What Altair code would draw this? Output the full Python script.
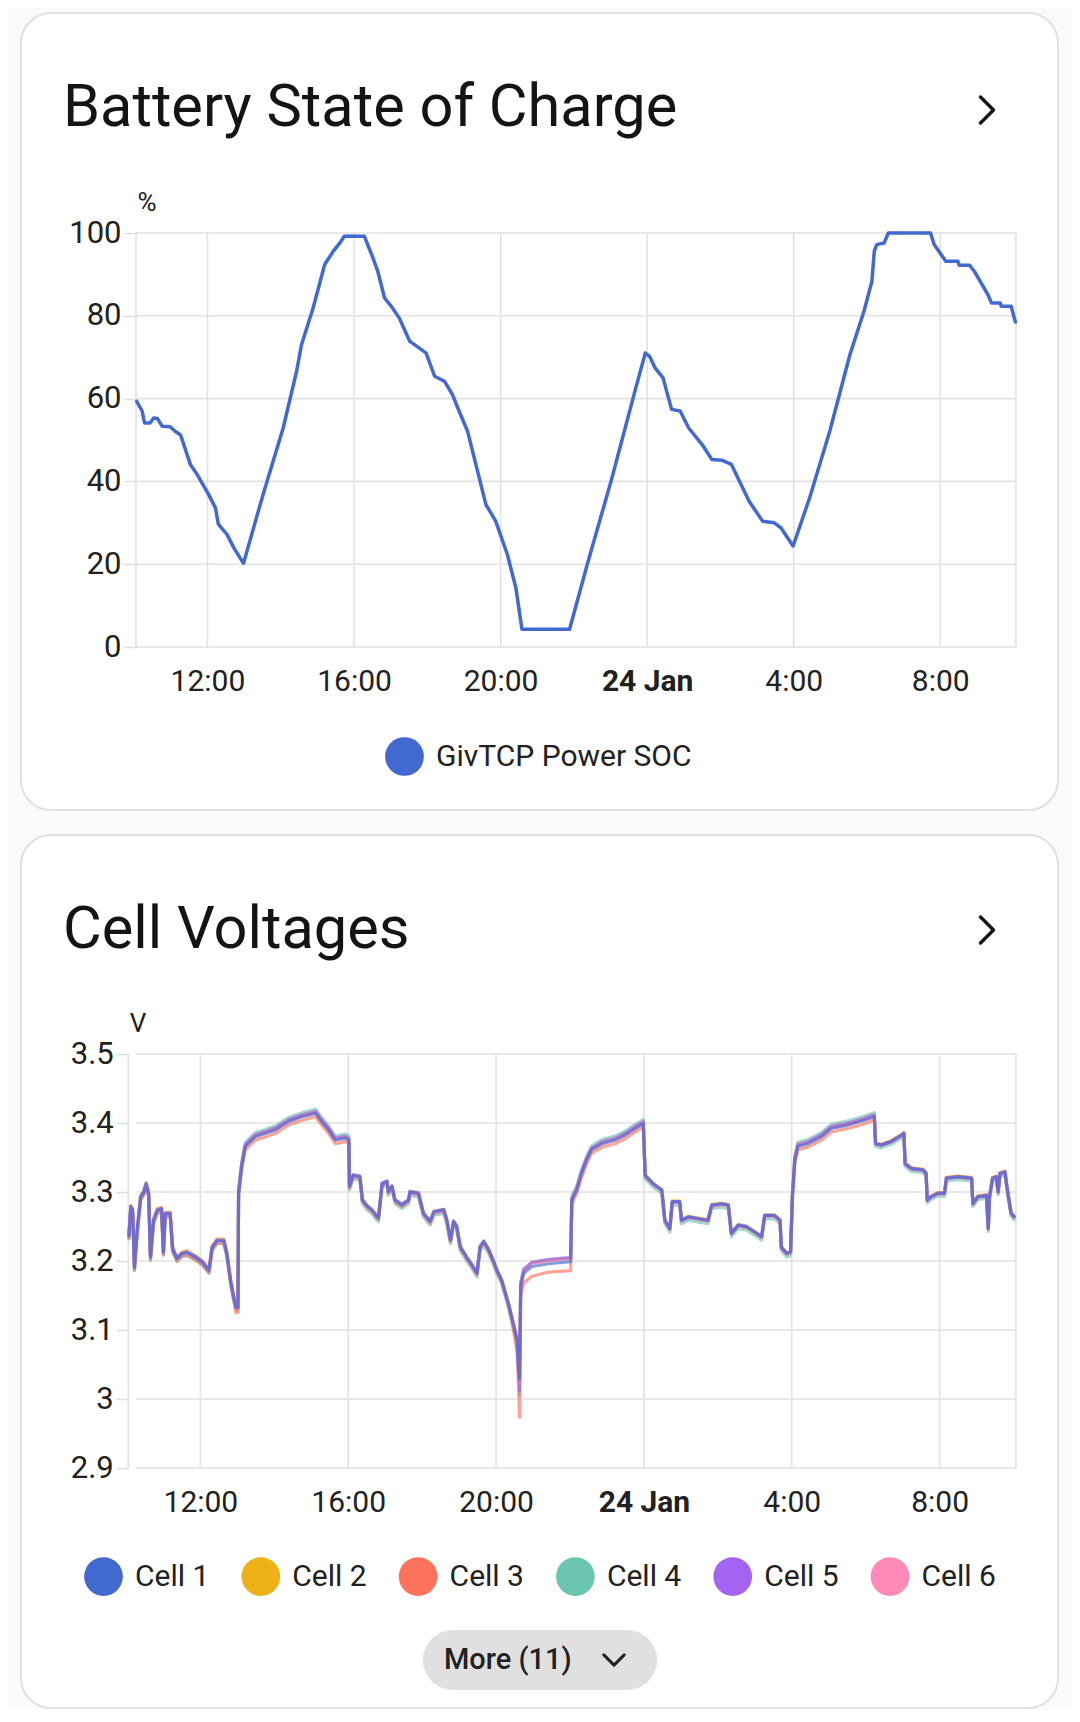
import altair as alt
import pandas as pd

FONT = "Roboto"
TXT = "#212121"
GRID = "#e2e2e2"

# ---------------- Battery SOC data ----------------
soc_times_23 = ["10:04", "10:13", "10:17", "10:26", "10:32", "10:38", "10:46", "10:59", "11:07", "11:16",
                "11:32", "11:43", "12:02", "12:13", "12:18", "12:32", "12:43", "12:59", "13:31", "14:04",
                "14:26", "14:34", "14:53", "15:12", "15:26", "15:37", "15:44", "16:17", "16:31", "16:39",
                "16:50", "17:01", "17:14", "17:31", "17:47", "17:58", "18:12", "18:28", "18:41", "18:52",
                "19:06", "19:36", "19:52", "20:11", "20:25", "20:35", "21:53", "22:22", "23:01", "23:40",
                "23:57"]
soc_values_23 = [59.4, 57.0, 54.1, 54.1, 55.3, 55.2, 53.3, 53.2, 52.1, 51.2,
                 44.1, 41.7, 36.8, 33.6, 29.6, 27.2, 24.0, 20.2, 36.8, 52.9,
                 66.6, 73.0, 81.9, 92.4, 95.6, 97.6, 99.2, 99.2, 94.0, 90.7,
                 84.3, 82.3, 79.5, 73.9, 72.2, 71.0, 65.4, 64.2, 61.0, 57.0,
                 52.1, 34.4, 30.4, 22.4, 14.3, 4.3, 4.3, 20.0, 40.1, 61.8,
                 71.0]
soc_times_24 = ["00:04", "00:13", "00:26", "00:40", "00:54", "01:08", "01:30", "01:46", "02:03", "02:18",
                "02:31", "02:47", "03:09", "03:28", "03:39", "03:59", "04:26", "04:59", "05:32", "05:55",
                "06:08", "06:12", "06:16", "06:28", "06:35", "07:44", "07:50", "08:09", "08:29", "08:31",
                "08:48", "08:56", "09:18", "09:24", "09:38", "09:40", "09:56", "10:03"]
soc_values_24 = [70.2, 67.4, 65.0, 57.4, 57.0, 52.9, 48.9, 45.3, 45.1, 44.1,
                 40.1, 35.2, 30.4, 30.0, 28.8, 24.4, 36.0, 52.1, 70.6, 81.1,
                 88.3, 95.6, 97.2, 97.6, 100.0, 100.0, 97.2, 93.2, 93.2, 92.2,
                 92.2, 90.7, 85.1, 83.1, 83.1, 82.3, 82.3, 78.5]

# ---------------- Cell voltage data ----------------
v_times_23 = ["10:04", "10:07", "10:10", "10:13", "10:17", "10:23", "10:28", "10:32", "10:36", "10:39",
              "10:44", "10:50", "10:57", "11:00", "11:03", "11:11", "11:15", "11:22", "11:30", "11:38",
              "11:52", "12:03", "12:14", "12:19", "12:27", "12:38", "12:43", "12:49", "12:54", "12:58",
              "13:01",
              "13:02", "13:07", "13:13", "13:29", "13:46", "14:02", "14:23", "14:45", "15:07", "15:15",
              "15:28", "15:39", "15:55", "16:01",
              "16:02", "16:08", "16:19", "16:23", "16:31", "16:38", "16:45", "16:49", "16:55", "17:03",
              "17:05", "17:11", "17:16", "17:27", "17:38", "17:40", "17:54", "18:02", "18:13", "18:19",
              "18:35", "18:40", "18:46", "18:51", "18:56", "19:02", "19:13", "19:23", "19:29", "19:34",
              "19:40", "19:48", "19:56", "20:01", "20:09", "20:20", "20:28", "20:34", "20:37",
              "20:38",
              "20:40", "20:45", "20:58", "21:25", "22:01",
              "22:03", "22:11", "22:19", "22:27", "22:35", "22:52", "23:13", "23:29", "23:46", "23:59"]
v_times_24 = ["00:02", "00:15", "00:29", "00:34", "00:42", "00:46", "00:58", "01:01", "01:12", "01:25",
              "01:44", "01:50", "02:06", "02:17", "02:22", "02:33", "02:46", "03:00", "03:11", "03:16",
              "03:32", "03:41", "03:43", "03:52", "03:58",
              "04:01", "04:05", "04:10", "04:26", "04:48", "05:04", "05:31", "05:58", "06:14",
              "06:16", "06:25", "06:41", "06:58", "07:02", "07:04", "07:14", "07:33", "07:38", "07:40",
              "07:46", "07:57", "08:08", "08:11", "08:30", "08:52", "08:54", "09:02", "09:16", "09:19",
              "09:21", "09:26", "09:32", "09:35", "09:38", "09:46", "09:50", "09:56", "10:01"]

cell_1 = [3.237, 3.279, 3.274, 3.191, 3.240, 3.293, 3.300, 3.312, 3.298, 3.206, 3.259, 3.274, 3.276, 3.213, 3.269, 3.269, 3.218, 3.204, 3.211, 3.213, 3.206, 3.199, 3.187, 3.220, 3.230, 3.230, 3.211, 3.172, 3.148, 3.133, 3.133,
          3.298, 3.337, 3.366, 3.380, 3.385, 3.390, 3.402, 3.409, 3.414, 3.404, 3.390, 3.375, 3.378, 3.375,
          3.308, 3.324, 3.322, 3.288, 3.279, 3.274, 3.266, 3.262, 3.312, 3.315, 3.300, 3.308, 3.288, 3.281, 3.288, 3.300, 3.298, 3.269, 3.257, 3.271, 3.274, 3.259, 3.230, 3.257, 3.250, 3.220, 3.204, 3.191, 3.182, 3.220, 3.228, 3.216, 3.199, 3.187, 3.172, 3.138, 3.109, 3.085, 3.037,
          3.030,
          3.162, 3.182, 3.192, 3.196, 3.199,
          3.288, 3.303, 3.327, 3.346, 3.361, 3.370, 3.375, 3.382, 3.392, 3.399,
          3.324, 3.312, 3.303, 3.259, 3.247, 3.286, 3.286, 3.259, 3.264, 3.262, 3.259, 3.281, 3.283, 3.281, 3.240, 3.252, 3.250, 3.242, 3.235, 3.266, 3.266, 3.259, 3.220, 3.211, 3.213,
          3.293, 3.346, 3.366, 3.370, 3.380, 3.392, 3.397, 3.404, 3.409,
          3.370, 3.368, 3.373, 3.382, 3.385, 3.341, 3.334, 3.332, 3.327, 3.288, 3.293, 3.298, 3.298, 3.320, 3.322, 3.320, 3.283, 3.293, 3.295, 3.247, 3.293, 3.320, 3.322, 3.300, 3.327, 3.329, 3.303, 3.269, 3.264]

cell_2 = [3.239, 3.281, 3.276, 3.193, 3.242, 3.295, 3.302, 3.314, 3.300, 3.208, 3.261, 3.276, 3.278, 3.215, 3.271, 3.271, 3.220, 3.206, 3.213, 3.215, 3.208, 3.201, 3.189, 3.222, 3.232, 3.232, 3.213, 3.174, 3.150, 3.135, 3.135,
          3.300, 3.339, 3.368, 3.382, 3.387, 3.392, 3.404, 3.411, 3.416, 3.406, 3.392, 3.377, 3.380, 3.377,
          3.309, 3.325, 3.323, 3.289, 3.280, 3.275, 3.267, 3.263, 3.313, 3.316, 3.301, 3.309, 3.289, 3.282, 3.289, 3.301, 3.299, 3.270, 3.258, 3.272, 3.275, 3.260, 3.231, 3.258, 3.251, 3.221, 3.205, 3.192, 3.183, 3.221, 3.229, 3.217, 3.200, 3.188, 3.173, 3.139, 3.110, 3.086, 3.038,
          3.018,
          3.167, 3.187, 3.197, 3.201, 3.204,
          3.290, 3.305, 3.329, 3.348, 3.363, 3.372, 3.377, 3.384, 3.394, 3.401,
          3.325, 3.313, 3.304, 3.260, 3.248, 3.287, 3.287, 3.260, 3.265, 3.263, 3.260, 3.282, 3.284, 3.282, 3.241, 3.253, 3.251, 3.243, 3.236, 3.267, 3.267, 3.260, 3.221, 3.212, 3.214,
          3.295, 3.348, 3.368, 3.372, 3.382, 3.394, 3.399, 3.406, 3.411,
          3.371, 3.369, 3.374, 3.383, 3.386, 3.342, 3.335, 3.333, 3.328, 3.289, 3.294, 3.299, 3.299, 3.321, 3.323, 3.321, 3.284, 3.294, 3.296, 3.248, 3.294, 3.321, 3.323, 3.301, 3.328, 3.330, 3.304, 3.270, 3.265]

cell_3 = [3.233, 3.275, 3.270, 3.187, 3.236, 3.289, 3.296, 3.308, 3.294, 3.202, 3.255, 3.270, 3.272, 3.209, 3.265, 3.265, 3.214, 3.200, 3.207, 3.209, 3.202, 3.195, 3.183, 3.216, 3.226, 3.226, 3.207, 3.168, 3.144, 3.125, 3.125,
          3.293, 3.332, 3.361, 3.375, 3.380, 3.385, 3.397, 3.404, 3.409, 3.399, 3.385, 3.370, 3.373, 3.370,
          3.306, 3.322, 3.320, 3.286, 3.277, 3.272, 3.264, 3.260, 3.310, 3.313, 3.298, 3.306, 3.286, 3.279, 3.286, 3.298, 3.296, 3.267, 3.255, 3.269, 3.272, 3.257, 3.228, 3.255, 3.248, 3.218, 3.202, 3.189, 3.180, 3.218, 3.226, 3.214, 3.197, 3.185, 3.170, 3.136, 3.100, 3.070, 3.010,
          2.974,
          3.150, 3.168, 3.178, 3.184, 3.186,
          3.283, 3.298, 3.322, 3.341, 3.356, 3.365, 3.370, 3.377, 3.387, 3.394,
          3.323, 3.311, 3.302, 3.258, 3.246, 3.285, 3.285, 3.258, 3.263, 3.261, 3.258, 3.280, 3.282, 3.280, 3.239, 3.251, 3.249, 3.241, 3.234, 3.265, 3.265, 3.258, 3.219, 3.210, 3.212,
          3.288, 3.341, 3.361, 3.365, 3.375, 3.387, 3.392, 3.399, 3.404,
          3.371, 3.369, 3.374, 3.383, 3.386, 3.342, 3.335, 3.333, 3.328, 3.289, 3.294, 3.299, 3.299, 3.321, 3.323, 3.321, 3.284, 3.294, 3.296, 3.248, 3.294, 3.321, 3.323, 3.301, 3.328, 3.330, 3.304, 3.270, 3.265]

cell_4 = [3.232, 3.274, 3.269, 3.186, 3.235, 3.288, 3.295, 3.307, 3.293, 3.201, 3.254, 3.269, 3.271, 3.208, 3.264, 3.264, 3.213, 3.199, 3.206, 3.208, 3.201, 3.194, 3.182, 3.215, 3.225, 3.225, 3.206, 3.167, 3.143, 3.128, 3.128,
          3.304, 3.343, 3.372, 3.386, 3.391, 3.396, 3.408, 3.415, 3.420, 3.410, 3.396, 3.381, 3.384, 3.381,
          3.303, 3.319, 3.317, 3.283, 3.274, 3.269, 3.261, 3.257, 3.307, 3.310, 3.295, 3.303, 3.283, 3.276, 3.283, 3.295, 3.293, 3.264, 3.252, 3.266, 3.269, 3.254, 3.225, 3.252, 3.245, 3.215, 3.199, 3.186, 3.177, 3.215, 3.223, 3.211, 3.194, 3.182, 3.167, 3.133, 3.104, 3.080, 3.032,
          3.005,
          3.168, 3.188, 3.198, 3.202, 3.205,
          3.294, 3.309, 3.333, 3.352, 3.367, 3.376, 3.381, 3.388, 3.398, 3.405,
          3.319, 3.307, 3.298, 3.254, 3.242, 3.281, 3.281, 3.254, 3.259, 3.257, 3.254, 3.276, 3.278, 3.276, 3.235, 3.247, 3.245, 3.237, 3.230, 3.261, 3.261, 3.254, 3.215, 3.206, 3.208,
          3.299, 3.352, 3.372, 3.376, 3.386, 3.398, 3.403, 3.410, 3.415,
          3.366, 3.364, 3.369, 3.378, 3.381, 3.337, 3.330, 3.328, 3.323, 3.284, 3.289, 3.294, 3.294, 3.316, 3.318, 3.316, 3.279, 3.289, 3.291, 3.243, 3.289, 3.316, 3.318, 3.296, 3.323, 3.325, 3.299, 3.265, 3.260]

cell_5 = [3.236, 3.278, 3.273, 3.190, 3.239, 3.292, 3.299, 3.311, 3.297, 3.205, 3.258, 3.273, 3.275, 3.212, 3.268, 3.268, 3.217, 3.203, 3.210, 3.212, 3.205, 3.198, 3.186, 3.219, 3.229, 3.229, 3.210, 3.171, 3.147, 3.132, 3.132,
          3.301, 3.340, 3.369, 3.383, 3.388, 3.393, 3.405, 3.412, 3.417, 3.407, 3.393, 3.378, 3.381, 3.378,
          3.309, 3.325, 3.323, 3.289, 3.280, 3.275, 3.267, 3.263, 3.313, 3.316, 3.301, 3.309, 3.289, 3.282, 3.289, 3.301, 3.299, 3.270, 3.258, 3.272, 3.275, 3.260, 3.231, 3.258, 3.251, 3.221, 3.205, 3.192, 3.183, 3.221, 3.229, 3.217, 3.200, 3.188, 3.173, 3.139, 3.110, 3.086, 3.038,
          3.012,
          3.168, 3.188, 3.198, 3.202, 3.205,
          3.291, 3.306, 3.330, 3.349, 3.364, 3.373, 3.378, 3.385, 3.395, 3.402,
          3.324, 3.312, 3.303, 3.259, 3.247, 3.286, 3.286, 3.259, 3.264, 3.262, 3.259, 3.281, 3.283, 3.281, 3.240, 3.252, 3.250, 3.242, 3.235, 3.266, 3.266, 3.259, 3.220, 3.211, 3.213,
          3.296, 3.349, 3.369, 3.373, 3.383, 3.395, 3.400, 3.407, 3.412,
          3.370, 3.368, 3.373, 3.382, 3.385, 3.341, 3.334, 3.332, 3.327, 3.288, 3.293, 3.298, 3.298, 3.320, 3.322, 3.320, 3.283, 3.293, 3.295, 3.247, 3.293, 3.320, 3.322, 3.300, 3.327, 3.329, 3.303, 3.269, 3.264]

cell_6 = [3.238, 3.280, 3.275, 3.192, 3.241, 3.294, 3.301, 3.313, 3.299, 3.207, 3.260, 3.275, 3.277, 3.214, 3.270, 3.270, 3.219, 3.205, 3.212, 3.214, 3.207, 3.200, 3.188, 3.221, 3.231, 3.231, 3.212, 3.173, 3.149, 3.134, 3.134,
          3.299, 3.338, 3.367, 3.381, 3.386, 3.391, 3.403, 3.410, 3.415, 3.405, 3.391, 3.376, 3.379, 3.376,
          3.307, 3.323, 3.321, 3.287, 3.278, 3.273, 3.265, 3.261, 3.311, 3.314, 3.299, 3.307, 3.287, 3.280, 3.287, 3.299, 3.297, 3.268, 3.256, 3.270, 3.273, 3.258, 3.229, 3.256, 3.249, 3.219, 3.203, 3.190, 3.181, 3.219, 3.227, 3.215, 3.198, 3.186, 3.171, 3.137, 3.108, 3.084, 3.036,
          3.022,
          3.167, 3.187, 3.197, 3.201, 3.204,
          3.289, 3.304, 3.328, 3.347, 3.362, 3.371, 3.376, 3.383, 3.393, 3.400,
          3.323, 3.311, 3.302, 3.258, 3.246, 3.285, 3.285, 3.258, 3.263, 3.261, 3.258, 3.280, 3.282, 3.280, 3.239, 3.251, 3.249, 3.241, 3.234, 3.265, 3.265, 3.258, 3.219, 3.210, 3.212,
          3.294, 3.347, 3.367, 3.371, 3.381, 3.393, 3.398, 3.405, 3.410,
          3.369, 3.367, 3.372, 3.381, 3.384, 3.340, 3.333, 3.331, 3.326, 3.287, 3.292, 3.297, 3.297, 3.319, 3.321, 3.319, 3.282, 3.292, 3.294, 3.246, 3.292, 3.319, 3.321, 3.299, 3.326, 3.328, 3.302, 3.268, 3.263]

cell_names = ["Cell 1", "Cell 2", "Cell 3", "Cell 4", "Cell 5", "Cell 6"]
cell_colors = ["#4269d0", "#efb118", "#ff725c", "#6cc5b0", "#a463f2", "#ff8ab7"]
draw_order = ["Cell 4", "Cell 3", "Cell 2", "Cell 6", "Cell 5", "Cell 1"]  # last drawn on top
soc_name = "GivTCP Power SOC"
soc_color = "#4269d0"

# axis ticks and domain
x_ticks = ["2024-01-23T12:00", "2024-01-23T16:00", "2024-01-23T20:00",
           "2024-01-24T00:00", "2024-01-24T04:00", "2024-01-24T08:00"]
x_domain = ["2024-01-23T10:03", "2024-01-24T10:04"]
soc_ticks = [0, 20, 40, 60, 80, 100]
volt_ticks = [2.9, 3.0, 3.1, 3.2, 3.3, 3.4, 3.5]

# ---------------- tables ----------------
soc_df = pd.DataFrame({
    "t": ["2024-01-23T" + s for s in soc_times_23] + ["2024-01-24T" + s for s in soc_times_24],
    "v": soc_values_23 + soc_values_24,
})
soc_df["series"] = soc_name

v_times = ["2024-01-23T" + s for s in v_times_23] + ["2024-01-24T" + s for s in v_times_24]
cell_values = dict(zip(cell_names, [cell_1, cell_2, cell_3, cell_4, cell_5, cell_6]))
rows = []
for name in draw_order:
    for t, v in zip(v_times, cell_values[name]):
        rows.append({"t": t, "v": v, "series": name})
volt_df = pd.DataFrame(rows)

xgrid_df = pd.DataFrame({"t": x_domain + x_ticks})
soc_grid_df = pd.DataFrame({"v": soc_ticks})
volt_grid_df = pd.DataFrame({"v": volt_ticks})

# ---------------- shared pieces ----------------
W = 880


def x_axis():
    return alt.Axis(
        values=x_ticks,
        labelExpr="hours(datum.value) == 0 ? '24 Jan' : hours(datum.value) + ':00'",
        labelFontWeight={"condition": {"test": "hours(datum.value) == 0", "value": "bold"},
                         "value": "normal"},
        ticks=False, domain=False, grid=False, labelPadding=19, labelFontSize=30,
        labelFont=FONT, labelColor=TXT, title=None, labelFlush=False, labelOverlap=False,
        zindex=2,
    )


def y_axis(values, unit, fmt, offset):
    return alt.Axis(
        values=values, format=fmt, title=unit, titleAngle=0, titleAlign="left",
        titleBaseline="alphabetic", titleX=1, titleY=-23, titleFontSize=26,
        titleFontWeight="normal", titleFont=FONT, titleColor=TXT,
        ticks=True, tickSize=12, tickColor="#dcdcdc", tickWidth=1.5,
        domain=False, grid=False, labelPadding=3, labelFontSize=31,
        labelFont=FONT, labelColor=TXT, labelFlush=False, labelOverlap=False,
        offset=offset, zindex=2,
    )


CHEV_R = "M-0.3,-0.6L0.3,0L-0.3,0.6"
CHEV_D = "M-0.6,-0.3L0,0.3L0.6,-0.3"
one = alt.Data(values=[{}])


def card(x1, x2, y1, y2):
    return alt.Chart(one).mark_rect(fill="white", stroke="#e0e0e0", strokeWidth=2,
                                    cornerRadius=30).encode(
        x=alt.value(x1), x2=alt.value(x2), y=alt.value(y1), y2=alt.value(y2))


def heading(text, x, y):
    return alt.Chart(one).mark_text(text=text, align="left", baseline="alphabetic",
                                    fontSize=59.5, font=FONT, color="#141414").encode(
        x=alt.value(x), y=alt.value(y))


def chevron(x, y):
    return alt.Chart(one).mark_point(shape=CHEV_R, filled=False, color="#141414",
                                     strokeWidth=3.5, size=1880, opacity=1,
                                     strokeCap="round", strokeJoin="round").encode(
        x=alt.value(x), y=alt.value(y))


def panel(df, grid_y_df, y_dom, y_ax, x_range, names, colors, line_width, line_opacity,
          legend_x, legend_y, height, deco, columns):
    x_scale = alt.Scale(domain=x_domain, nice=False, range=x_range)
    y_scale = alt.Scale(domain=y_dom, nice=False, zero=False)
    xa = x_axis()
    vgrid = alt.Chart(xgrid_df).mark_rule(color=GRID, strokeWidth=1.6).encode(
        x=alt.X("t:T", scale=x_scale, axis=xa))
    hgrid = alt.Chart(grid_y_df).mark_rule(color=GRID, strokeWidth=1.6).encode(
        y=alt.Y("v:Q", scale=y_scale, axis=y_ax))
    # stroke scale: domain comes from the data (sorted), so it is not merged with the legend
    lines = alt.Chart(df).mark_line(strokeWidth=line_width, strokeJoin="round",
                                    strokeCap="round", opacity=line_opacity).encode(
        x=alt.X("t:T", scale=x_scale, axis=xa),
        y=alt.Y("v:Q", scale=y_scale, axis=y_ax),
        stroke=alt.Stroke("series:N", scale=alt.Scale(range=colors), legend=None),
    )
    leg = alt.Chart(df).mark_circle(opacity=1, size=0).encode(
        x=alt.X("t:T", scale=x_scale, axis=xa),
        y=alt.Y("v:Q", scale=y_scale, axis=y_ax),
        fill=alt.Fill("series:N", scale=alt.Scale(domain=names, range=colors),
                      legend=alt.Legend(
                          title=None, orient="none", legendX=legend_x, legendY=legend_y,
                          direction="horizontal", columns=columns, symbolType="circle",
                          symbolSize=1500, symbolStrokeWidth=0, symbolOpacity=1,
                          labelFont=FONT, labelFontSize=30, labelColor=TXT,
                          labelOffset=12, columnPadding=31.3, padding=0,
                          labelLimit=400, zindex=3)),
    )
    layers = deco[:1] + [vgrid, hgrid, leg, lines] + deco[1:]
    return alt.layer(*layers).properties(width=W, height=height)


# ---------------- chart 1 ----------------
c1 = panel(
    soc_df, soc_grid_df, [0, 100], y_axis(soc_ticks, "%", "d", 0), [0, W],
    [soc_name], [soc_color], 3.5, 1.0, 249, 504, 414,
    [card(-115, 922, -220, 577),
     heading("Battery State of Charge", -73, -107),
     chevron(851, -123)],
    1,
)

# ---------------- chart 2 ----------------
button = alt.Chart(one).mark_rect(fill="#e0e0e0", cornerRadius=30).encode(
    x=alt.value(287), x2=alt.value(521), y=alt.value(576), y2=alt.value(636))
button_text = alt.Chart(one).mark_text(text="More (11)", align="left", baseline="middle",
                                       fontSize=29, fontWeight=500, font=FONT,
                                       color=TXT).encode(x=alt.value(308), y=alt.value(606))
button_chev = alt.Chart(one).mark_point(shape=CHEV_D, filled=False, color=TXT,
                                        strokeWidth=3, size=1156, opacity=1,
                                        strokeCap="round", strokeJoin="round").encode(
    x=alt.value(478), y=alt.value(606))

c2 = panel(
    volt_df, volt_grid_df, [2.9, 3.5], y_axis(volt_ticks, "V", "~g", 7.7), [-7.7, W],
    cell_names, cell_colors, 3.2, 0.65, -52, 503, 414,
    [card(-115, 922, -219, 654),
     heading("Cell Voltages", -73, -106),
     chevron(851, -124),
     button, button_text, button_chev],
    6,
)

chart = alt.vconcat(c1, c2, spacing=23).resolve_scale(
    stroke="independent", fill="independent"
).resolve_legend(
    stroke="independent", fill="independent"
).properties(
    padding={"left": 12, "top": 4, "right": 13, "bottom": 0},
    background="#fafafa",
).configure_view(stroke=None)

chart.save("out.html", embed_options={"renderer": "svg", "actions": False})
